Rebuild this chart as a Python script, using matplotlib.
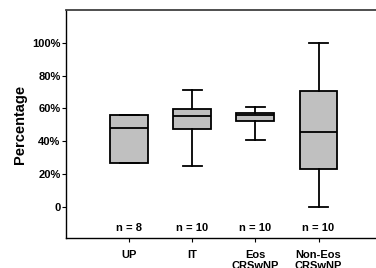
import matplotlib
matplotlib.use('Agg')
import matplotlib.pyplot as plt

# --- DATA (percent)
groups = ["UP", "IT", "Eos\nCRSwNP", "Non-Eos\nCRSwNP"]
counts = [8, 10, 10, 10]
whislo = [26.6, 25.2, 40.9, 0.0]
q1 = [26.6, 47.6, 52.3, 23.2]
med = [48.4, 55.7, 56.1, 45.9]
q3 = [56.1, 59.9, 57.3, 70.9]
whishi = [56.1, 71.3, 61.0, 100.0]
yticks = [0, 20, 40, 60, 80, 100]
ytick_labels = ["0", "20%", "40%", "60%", "80%", "100%"]

plt.rcParams['font.family'] = ['Liberation Sans', 'DejaVu Sans']
plt.rcParams['font.weight'] = 'bold'

fig = plt.figure(figsize=(3.76, 2.68), dpi=100)
ax = fig.add_axes([0.1755, 0.112, 0.8245, 0.8507])

stats = []
for i in range(len(groups)):
    stats.append({"whislo": whislo[i], "q1": q1[i], "med": med[i],
                  "q3": q3[i], "whishi": whishi[i], "fliers": []})

positions = list(range(1, len(groups) + 1))
ax.bxp(stats, positions=positions, widths=0.6, patch_artist=True, showfliers=False,
       boxprops=dict(facecolor='#c0c0c0', edgecolor='black', linewidth=1.3),
       medianprops=dict(color='black', linewidth=1.3),
       whiskerprops=dict(color='black', linewidth=1.3),
       capprops=dict(color='black', linewidth=1.3),
       capwidths=0.3)

for p, n in zip(positions, counts):
    ax.text(p, -12.8, f"n = {n}", ha='center', va='center', fontsize=8, fontweight='bold')

ax.set_xlim(0, 4.91)
ax.set_ylim(-18.9, 120)
ax.set_yticks(yticks)
ax.set_yticklabels(ytick_labels, fontsize=8, fontweight='bold')
ax.set_xticks(positions)
ax.set_xticklabels(groups, fontsize=8, fontweight='bold', linespacing=1.05)
ax.tick_params(axis='y', length=3, width=0.8, pad=1)
ax.tick_params(axis='x', length=3, width=0.8, pad=6)
ax.set_ylabel("Percentage", fontsize=10.5, fontweight='bold', labelpad=4)

ax.spines['right'].set_visible(False)
ax.spines['top'].set_color('#404040')
ax.spines['top'].set_linewidth(1.3)
ax.spines['left'].set_linewidth(1.0)
ax.spines['bottom'].set_linewidth(1.0)

fig.savefig("out.png", dpi=100)
